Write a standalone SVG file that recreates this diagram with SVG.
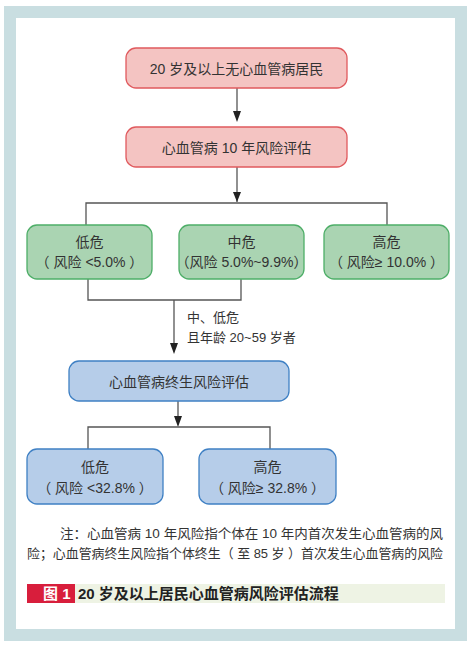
<svg xmlns="http://www.w3.org/2000/svg" width="474" height="649" viewBox="0 0 474 649">
<defs>
<style>
.t{font-family:"Liberation Sans","Noto Sans CJK SC",sans-serif;font-size:14px;fill:#333;text-anchor:middle}
.pk{fill:#f4c4c2;stroke:#e05a5e;stroke-width:1.3}
.gr{fill:#aad4b2;stroke:#4eae68;stroke-width:1.3}
.bl{fill:#b6cde9;stroke:#3f80c4;stroke-width:1.3}
.ln{fill:none;stroke:#555;stroke-width:1.3}
.ah{fill:#222}
.note{font-family:"Liberation Sans","Noto Sans CJK SC",sans-serif;font-size:13px;fill:#333}
</style>
</defs>
<rect x="0" y="0" width="474" height="649" fill="#fff"/>
<rect x="4" y="6" width="463" height="635" fill="#c9dee1"/>
<rect x="16" y="18" width="439" height="611" fill="#fff"/>
<g id="connectors">
<path class="ln" d="M237,88 V112"/>
<path class="ah" d="M233,111 L241,111 L237,122 Z"/>
<path class="ln" d="M237,167 V202"/>
<path class="ah" d="M233,192 L241,192 L237,202 Z"/>
<path class="ln" d="M86,225 V203 H387 V225"/>
<path class="ln" d="M88,279 V300 H241 V279"/>
<path class="ln" d="M174,300 V343"/>
<path class="ah" d="M170,343 L178,343 L174,354 Z"/>
<path class="ln" d="M178,401 V416"/>
<path class="ah" d="M174,416 L182,416 L178,427 Z"/>
<path class="ln" d="M88,449 V427 H270 V449"/>
</g>
<g id="n1"><rect class="pk" x="126" y="48" width="221" height="40" rx="10"/><text class="t" x="236.5" y="74">20 岁及以上无心血管病居民</text></g>
<g id="n2"><rect class="pk" x="126" y="127" width="221" height="40" rx="10"/><text class="t" x="236.5" y="153">心血管病 10 年风险评估</text></g>
<g id="n3"><rect class="gr" x="27" y="225" width="125" height="54" rx="10"/><text class="t" x="89.5" y="247">低危</text><text class="t" x="89.5" y="267">（ 风险 &lt;5.0% ）</text></g>
<g id="n4"><rect class="gr" x="179" y="225" width="125" height="54" rx="10"/><text class="t" x="241.5" y="247">中危</text><text class="t" x="241.5" y="267">（风险 5.0%~9.9%）</text></g>
<g id="n5"><rect class="gr" x="324" y="225" width="125" height="54" rx="10"/><text class="t" x="386.5" y="247">高危</text><text class="t" x="386.5" y="267">（ 风险≥ 10.0% ）</text></g>
<g id="lbl"><text class="note" x="187" y="322" font-size="14">中、低危</text><text class="note" x="187" y="342" font-size="14">且年龄 20~59 岁者</text></g>
<g id="n6"><rect class="bl" x="69" y="361" width="220" height="40" rx="10"/><text class="t" x="179" y="387">心血管病终生风险评估</text></g>
<g id="n7"><rect class="bl" x="27" y="449" width="136" height="55" rx="10"/><text class="t" x="95" y="472">低危</text><text class="t" x="95" y="493">（ 风险 &lt;32.8% ）</text></g>
<g id="n8"><rect class="bl" x="199" y="449" width="137" height="55" rx="10"/><text class="t" x="267.5" y="472">高危</text><text class="t" x="267.5" y="493">（ 风险≥ 32.8% ）</text></g>
<g id="note">
<text class="note" x="60" y="538" textLength="383" lengthAdjust="spacingAndGlyphs">注：心血管病 10 年风险指个体在 10 年内首次发生心血管病的风</text>
<text class="note" x="27" y="558" textLength="416" lengthAdjust="spacingAndGlyphs">险；心血管病终生风险指个体终生（ 至 85 岁 ）首次发生心血管病的风险</text>
</g>
<g id="caption">
<rect x="75" y="584" width="370" height="19" fill="#eef3e4"/>
<rect x="27" y="584" width="48" height="19" fill="#d81e3c"/>
<text x="43" y="599" font-family="Liberation Sans,Noto Sans CJK SC,sans-serif" font-size="15" font-weight="bold" fill="#fff">图 1</text>
<text x="78" y="599" font-family="Liberation Sans,Noto Sans CJK SC,sans-serif" font-size="15" font-weight="bold" fill="#222">20 岁及以上居民心血管病风险评估流程</text>
</g>
</svg>
